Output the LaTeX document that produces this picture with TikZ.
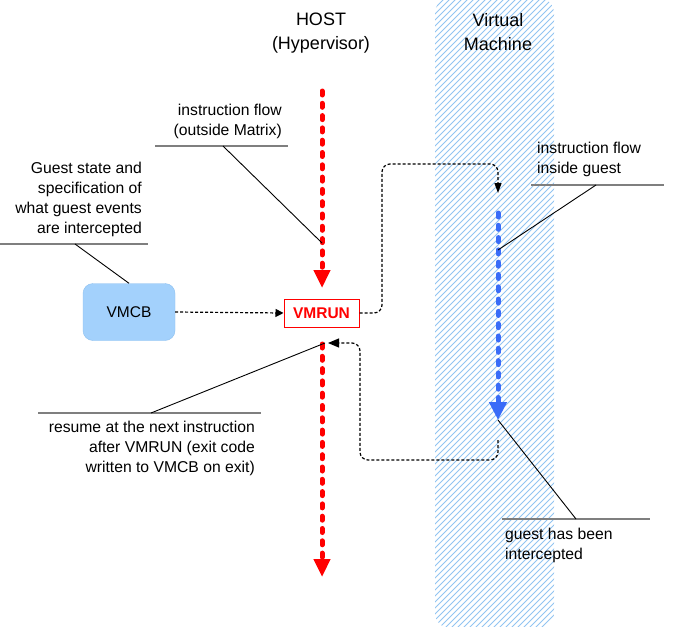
\documentclass[tikz,border=0pt]{standalone}
\usepackage{fontspec}
\setmainfont{Liberation Sans}
\usetikzlibrary{arrows.meta}
\definecolor{hatchblue}{HTML}{92C4F2}
\definecolor{vmcbfill}{HTML}{A3D1FC}
\definecolor{vmcbline}{HTML}{8DC0F0}
\definecolor{flowred}{HTML}{FF0000}
\definecolor{flowblue}{HTML}{3A6CF8}
\definecolor{rulegray}{HTML}{7F7F7F}
\begin{document}
\begin{tikzpicture}[x=1pt,y=-1pt,
  lbl/.style={font=\fontsize{15.7}{20}\selectfont, inner sep=0pt, text=black},
  ttl/.style={font=\fontsize{18}{24}\selectfont, inner sep=0pt, align=center, text=black},
  reddash/.style={draw=flowred, line width=5pt, line cap=round, dash pattern=on 4pt off 8.3pt,
      -{Triangle[length=18pt,width=16pt,fill=flowred,color=flowred]}},
  bluedash/.style={draw=flowblue, line width=5pt, line cap=round, dash pattern=on 4pt off 8.3pt,
      -{Triangle[length=18pt,width=17pt,fill=flowblue,color=flowblue]}},
  blkdash/.style={draw=black, line width=1.2pt, dash pattern=on 3pt off 2pt},
  rulel/.style={draw=rulegray, line width=1.4pt},
  leader/.style={draw=black, line width=0.9pt},
]
\useasboundingbox (0,0) rectangle (674,626);
\fill[white] (0,0) rectangle (674,626);

% hatched Virtual Machine band
\begin{scope}
  \clip[rounded corners=15pt] (435,-2) rectangle (554,628);
  \foreach \i in {0,...,130} {
    \draw[hatchblue, line width=0.9pt] ({435-640+\i*6},630) -- ++(640,-640);
  }
\end{scope}

% titles
\node[ttl, anchor=north] (host) at (321,13) {HOST\\(Hypervisor)};
\node[ttl, anchor=north] (vm) at (498,13) {Virtual\\Machine};

% main boxes
\node[draw=flowred, line width=1pt, fill=white, minimum width=75pt, minimum height=28pt,
      inner sep=0pt, text=flowred, font=\fontsize{15.5}{18}\bfseries\selectfont] (vmrun) at (321.5,313) {VMRUN};
\node[draw=vmcbline, fill=vmcbfill, rounded corners=10pt, minimum width=92pt, minimum height=57pt,
      inner sep=0pt, font=\fontsize{15.5}{18}\selectfont] (vmcb) at (129,312) {VMCB};

% coordinates of flows
\coordinate (rtop) at (322,91);
\coordinate (rtip) at (322,288);
\coordinate (rbtop) at (322,344);
\coordinate (rbtip) at (322,577);
\coordinate (btop) at (498,213);
\coordinate (btip) at (498,420);
\coordinate (c1) at (382,164);
\coordinate (vmin) at (498,193);
\coordinate (vmout) at (498,440);
\coordinate (c2) at (360,460);
\coordinate (resume) at (328,343);

% flows
\draw[reddash] (rtop) -- (rtip);
\draw[reddash] (rbtop) -- (rbtip);
\draw[bluedash] (btop) -- (btip);

% dotted connectors
\draw[blkdash, -{Triangle[length=8pt,width=8pt]}] (vmcb.east) -- (vmrun.west);
\draw[blkdash, rounded corners=8pt, -{Triangle[length=10pt,width=7pt]}] (vmrun.east) -| (c1) -| (vmin);
\draw[blkdash, rounded corners=8pt, -{Triangle[length=11pt,width=9pt]}] (vmout) |- (c2) |- (resume);

% callout 1: instruction flow (outside Matrix)
\node[lbl, anchor=north east, align=right] (t1) at (282,104) {instruction flow\\(outside Matrix)};
\coordinate (r1a) at (155,146); \coordinate (r1b) at (288,146);
\coordinate (l1a) at (223,146); \coordinate (l1b) at (322,243);
\draw[rulel] (r1a) -- (r1b);
\draw[leader] (l1a) -- (l1b);

% callout 2: Guest state ...
\node[lbl, anchor=north east, align=right] (t2) at (142,162) {Guest state and\\specification of\\what guest events\\are intercepted};
\coordinate (r2a) at (0,244); \coordinate (r2b) at (148,244);
\coordinate (l2a) at (75,244);
\draw[rulel] (r2a) -- (r2b);
\draw[leader] (l2a) -- (vmcb.north);

% callout 3: instruction flow inside guest
\node[lbl, anchor=north west, align=left] (t3) at (537,142) {instruction flow\\inside guest};
\coordinate (r3a) at (531,185); \coordinate (r3b) at (664,185);
\coordinate (l3a) at (596,185); \coordinate (l3b) at (498,250);
\draw[rulel] (r3a) -- (r3b);
\draw[leader] (l3a) -- (l3b);

% callout 4: resume ...
\node[lbl, anchor=north east, align=right] (t4) at (255,421) {resume at the next instruction\\after VMRUN (exit code\\written to VMCB on exit)};
\coordinate (r4a) at (38,413); \coordinate (r4b) at (261,413);
\coordinate (l4a) at (151,413); \coordinate (l4b) at (325,343);
\draw[rulel] (r4a) -- (r4b);
\draw[leader] (l4a) -- (l4b);

% callout 5: guest has been intercepted
\node[lbl, anchor=north west, align=left] (t5) at (505,528) {guest has been\\intercepted};
\coordinate (r5a) at (502,519); \coordinate (r5b) at (650,519);
\coordinate (l5a) at (576,519);
\draw[rulel] (r5a) -- (r5b);
\draw[leader] (l5a) -- (btip);
\end{tikzpicture}
\end{document}
